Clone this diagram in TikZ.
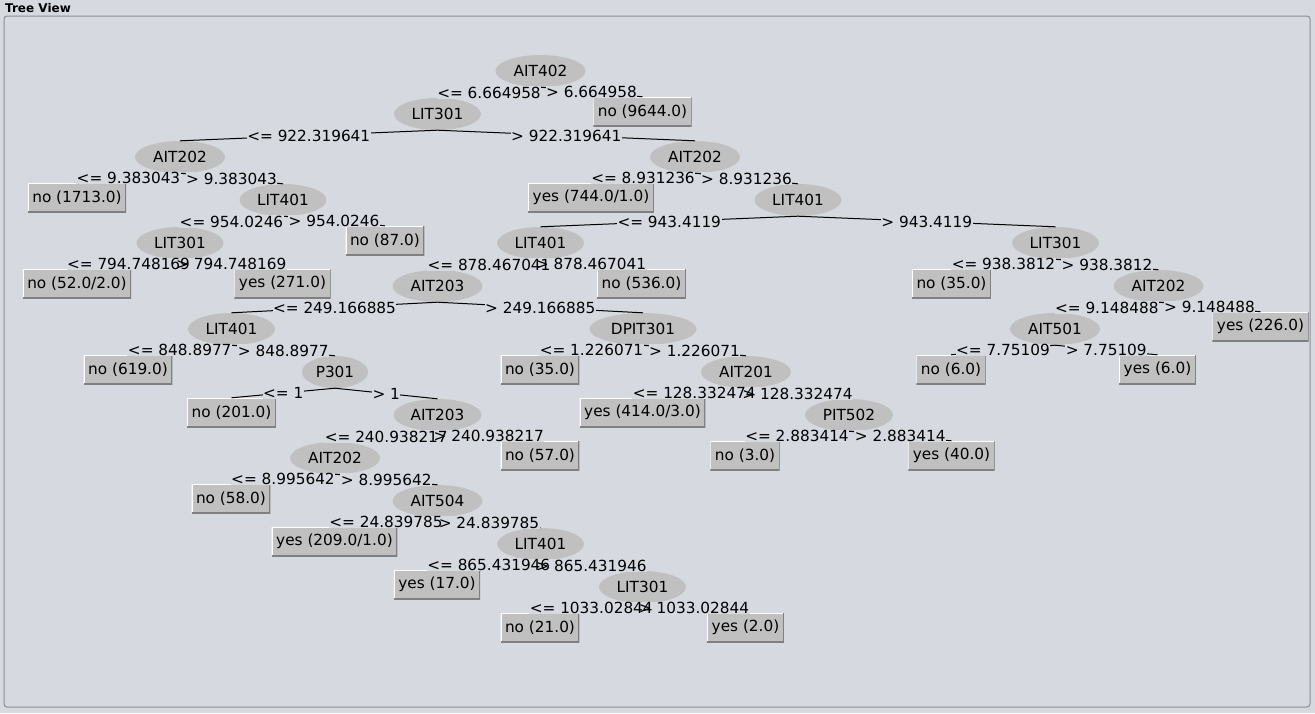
\documentclass[tikz,border=0pt]{standalone}
\usepackage{fontspec}
\setmainfont{DejaVu Sans}
\usetikzlibrary{shapes.geometric}
\definecolor{bgcol}{RGB}{214,217,223}
\definecolor{nodegray}{RGB}{192,192,192}
\definecolor{leafdark}{RGB}{128,128,128}
\definecolor{framegray}{RGB}{140,142,146}
\newcommand\treefont{\fontsize{15.3}{18}\selectfont}
\newcommand\treeedges[2]{%
\path[#1] (n0.south) -- node[#2]{<= 6.664958} (n1.north);
\path[#1] (n0.south) -- node[#2]{> 6.664958} (l1.north);
\path[#1] (n1.south) -- node[#2]{<= 922.319641} (n2.north);
\path[#1] (n1.south) -- node[#2]{> 922.319641} (n3.north);
\path[#1] (n2.south) -- node[#2]{<= 9.383043} (l2.north);
\path[#1] (n2.south) -- node[#2]{> 9.383043} (n4.north);
\path[#1] (n4.south) -- node[#2]{<= 954.0246} (n5.north);
\path[#1] (n4.south) -- node[#2]{> 954.0246} (l4.north);
\path[#1] (n5.south) -- node[#2]{<= 794.748169} (l5.north);
\path[#1] (n5.south) -- node[#2]{> 794.748169} (l6.north);
\path[#1] (n3.south) -- node[#2]{<= 8.931236} (l3.north);
\path[#1] (n3.south) -- node[#2]{> 8.931236} (n6.north);
\path[#1] (n6.south) -- node[#2]{<= 943.4119} (n7.north);
\path[#1] (n6.south) -- node[#2]{> 943.4119} (n8.north);
\path[#1] (n7.south) -- node[#2]{<= 878.467041} (n9.north);
\path[#1] (n7.south) -- node[#2]{> 878.467041} (l7.north);
\path[#1] (n9.south) -- node[#2]{<= 249.166885} (n10.north);
\path[#1] (n9.south) -- node[#2]{> 249.166885} (n11.north);
\path[#1] (n10.south) -- node[#2]{<= 848.8977} (l10.north);
\path[#1] (n10.south) -- node[#2]{> 848.8977} (n12.north);
\path[#1] (n12.south) -- node[#2]{<= 1} (l14.north);
\path[#1] (n12.south) -- node[#2]{> 1} (n13.north);
\path[#1] (n13.south) -- node[#2]{<= 240.938217} (n14.north);
\path[#1] (n13.south) -- node[#2]{> 240.938217} (l16.north);
\path[#1] (n14.south) -- node[#2]{<= 8.995642} (l19.north);
\path[#1] (n14.south) -- node[#2]{> 8.995642} (n15.north);
\path[#1] (n15.south) -- node[#2]{<= 24.839785} (l20.north);
\path[#1] (n15.south) -- node[#2]{> 24.839785} (n16.north);
\path[#1] (n16.south) -- node[#2]{<= 865.431946} (l21.north);
\path[#1] (n16.south) -- node[#2]{> 865.431946} (n17.north);
\path[#1] (n17.south) -- node[#2]{<= 1033.02844} (l22.north);
\path[#1] (n17.south) -- node[#2]{> 1033.02844} (l23.north);
\path[#1] (n11.south) -- node[#2]{<= 1.226071} (l11.north);
\path[#1] (n11.south) -- node[#2]{> 1.226071} (n18.north);
\path[#1] (n18.south) -- node[#2]{<= 128.332474} (l15.north);
\path[#1] (n18.south) -- node[#2]{> 128.332474} (n19.north);
\path[#1] (n19.south) -- node[#2]{<= 2.883414} (l17.north);
\path[#1] (n19.south) -- node[#2]{> 2.883414} (l18.north);
\path[#1] (n8.south) -- node[#2]{<= 938.3812} (l8.north);
\path[#1] (n8.south) -- node[#2]{> 938.3812} (n20.north);
\path[#1] (n20.south) -- node[#2]{<= 9.148488} (n21.north);
\path[#1] (n20.south) -- node[#2]{> 9.148488} (l9.north);
\path[#1] (n21.south) -- node[#2]{<= 7.75109} (l12.north);
\path[#1] (n21.south) -- node[#2]{> 7.75109} (l13.north);
}
\begin{document}
\begin{tikzpicture}[x=1pt,y=-1pt,font=\treefont,
  splitnode/.style={ellipse, fill=nodegray, minimum width=90pt, minimum height=32pt, inner sep=0pt},
  leafbox/.style={rectangle, fill=nodegray, minimum height=29pt, inner xsep=4.5pt, inner ysep=0pt,
    path picture={
      \draw[white, line width=2pt] (path picture bounding box.south west) -- (path picture bounding box.north west) -- (path picture bounding box.north east);
      \draw[leafdark, line width=2pt] (path picture bounding box.north east) -- (path picture bounding box.south east) -- (path picture bounding box.south west);
    }},
  lblbase/.style={anchor=base, yshift=-5.5pt, inner xsep=0.5pt, inner ysep=0.5pt},
  edgeline/.style={draw=black, line width=1pt}
]
\useasboundingbox[fill=bgcol] (0,0) rectangle (1315,713);
\node[anchor=base west, inner sep=0pt, font=\bfseries\fontsize{12}{14}\selectfont] (title) at (5,12) {Tree View};
\draw[framegray, line width=1pt, rounded corners=3pt] (4,16) rectangle (1310,707);

% split nodes
\node[splitnode] (n0) at (540.5,71) {AIT402};
\node[splitnode, minimum width=87pt] (n1) at (437.5,114) {LIT301};
\node[splitnode] (n2) at (180,157) {AIT202};
\node[splitnode] (n3) at (695,157) {AIT202};
\node[splitnode, minimum width=87pt] (n4) at (283,200) {LIT401};
\node[splitnode, minimum width=87pt] (n6) at (798,200) {LIT401};
\node[splitnode, minimum width=87pt] (n5) at (180,243) {LIT301};
\node[splitnode, minimum width=87pt] (n7) at (540.5,243) {LIT401};
\node[splitnode, minimum width=87pt] (n8) at (1055.5,243) {LIT301};
\node[splitnode] (n9) at (437.5,286) {AIT203};
\node[splitnode] (n20) at (1158.5,286) {AIT202};
\node[splitnode, minimum width=87pt] (n10) at (231.5,329) {LIT401};
\node[splitnode, minimum width=107pt] (n11) at (643,329) {DPIT301};
\node[splitnode] (n21) at (1055,329) {AIT501};
\node[splitnode, minimum width=66pt] (n12) at (335,372) {P301};
\node[splitnode] (n18) at (746,372) {AIT201};
\node[splitnode, minimum width=88pt] (n13) at (437.5,415) {AIT203};
\node[splitnode, minimum width=88pt] (n19) at (849,415) {PIT502};
\node[splitnode] (n14) at (335,458) {AIT202};
\node[splitnode] (n15) at (437.5,501) {AIT504};
\node[splitnode, minimum width=87pt] (n16) at (540.5,544) {LIT401};
\node[splitnode, minimum width=87pt] (n17) at (642.5,587) {LIT301};

% leaves
\node[leafbox] (l1) at (642.5,111.5) {no (9644.0)};
\node[leafbox] (l2) at (77,197.5) {no (1713.0)};
\node[leafbox] (l3) at (591,197.5) {yes (744.0/1.0)};
\node[leafbox] (l4) at (385,240.5) {no (87.0)};
\node[leafbox] (l5) at (77,283.5) {no (52.0/2.0)};
\node[leafbox] (l6) at (282.5,283.5) {yes (271.0)};
\node[leafbox] (l7) at (641.5,283.5) {no (536.0)};
\node[leafbox] (l8) at (951.5,283.5) {no (35.0)};
\node[leafbox] (l9) at (1260.5,326.5) {yes (226.0)};
\node[leafbox] (l10) at (128,369.5) {no (619.0)};
\node[leafbox] (l11) at (540,369.5) {no (35.0)};
\node[leafbox] (l12) at (951,369.5) {no (6.0)};
\node[leafbox] (l13) at (1157.5,369.5) {yes (6.0)};
\node[leafbox] (l14) at (231.5,412.5) {no (201.0)};
\node[leafbox] (l15) at (642.5,412.5) {yes (414.0/3.0)};
\node[leafbox] (l16) at (540,455.5) {no (57.0)};
\node[leafbox] (l17) at (745,455.5) {no (3.0)};
\node[leafbox] (l18) at (951.5,455.5) {yes (40.0)};
\node[leafbox] (l19) at (231,498.5) {no (58.0)};
\node[leafbox] (l20) at (334.5,541.5) {yes (209.0/1.0)};
\node[leafbox] (l21) at (437,584.5) {yes (17.0)};
\node[leafbox] (l22) at (540,627.5) {no (21.0)};
\node[leafbox] (l23) at (745.5,627.5) {yes (2.0)};

% edges, label backgrounds, label texts
\treeedges{edgeline}{lblbase, text=bgcol}
\treeedges{}{lblbase, fill=bgcol, text=bgcol}
\treeedges{}{lblbase, text=black}
\end{tikzpicture}
\end{document}
